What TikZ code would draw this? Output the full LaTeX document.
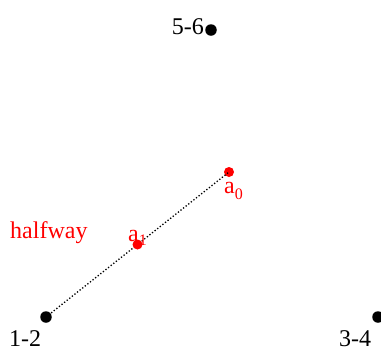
\documentclass[tikz,border=0pt]{standalone}
\usepackage{fontspec}
\setmainfont{Liberation Serif}
\begin{document}
\begin{tikzpicture}[x=1pt,y=-1pt,
  bigdot/.style={circle,fill=black,inner sep=0pt,minimum size=11.5pt},
  reddot/.style={circle,fill=red,inner sep=0pt,minimum size=10pt},
  lbl/.style={font=\fontsize{24}{24}\selectfont,inner sep=0pt},
  rlbl/.style={lbl,text=red},
  conn/.style={dash pattern=on 1.3pt off 2pt,line width=1.3pt}]
\useasboundingbox (0,0) rectangle (381,349);
\node[bigdot] (p56) at (211,30) {};
\node[bigdot] (p12) at (46,317) {};
\node[bigdot] (p34) at (378,317) {};
\node[reddot] (a0) at (229,172) {};
\draw[conn] (p12.center) -- (a0.center);
\node[reddot] (a1) at (137.5,244.5) {};
\node[lbl,anchor=base east] (t56) at (204,34) {5-6};
\node[lbl,anchor=base west] (t12) at (9,346) {1-2};
\node[lbl,anchor=base west] (t34) at (339,346) {3-4};
\node[rlbl,anchor=base west] (ta0) at (224,193) {a\lower.25em\hbox{\fontsize{16}{16}\selectfont 0}};
\node[rlbl,anchor=base west] (ta1) at (128,241) {a\lower.2em\hbox{\fontsize{16}{16}\selectfont 1}};
\node[rlbl,anchor=base west] (thw) at (10,238) {halfway};
\end{tikzpicture}
\end{document}
